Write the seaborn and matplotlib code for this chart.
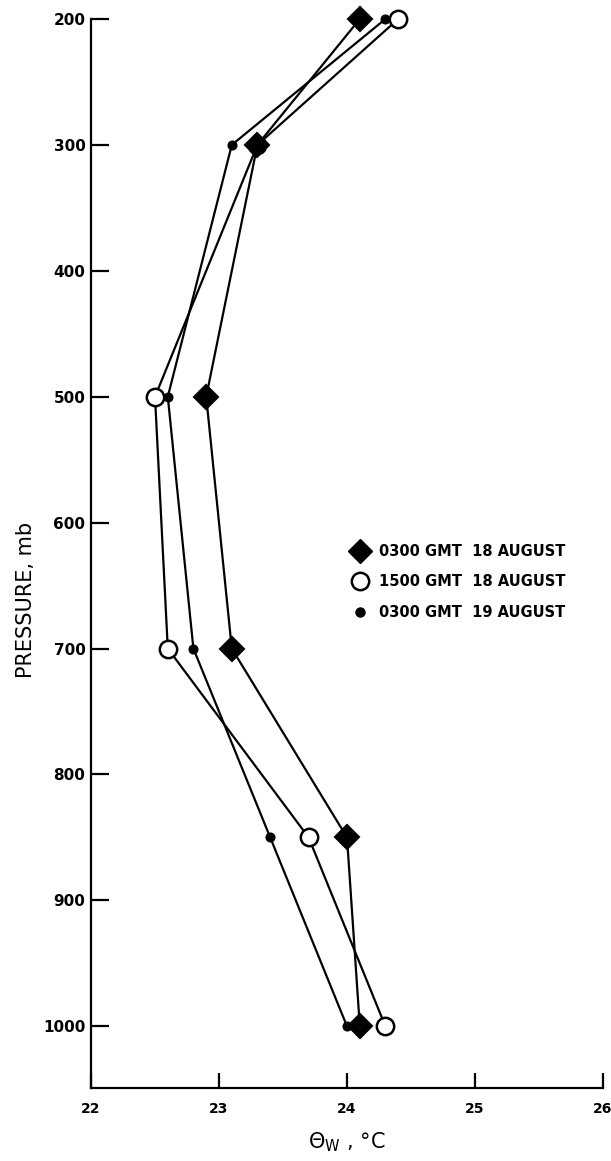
import matplotlib
matplotlib.use("Agg")
import matplotlib.pyplot as plt
from matplotlib.lines import Line2D
import seaborn as sns
import pandas as pd

# ---- data ----
pressure_levels = [200, 300, 500, 700, 850, 1000]
theta_0300_18 = [24.1, 23.3, 22.9, 23.1, 24.0, 24.1]   # diamonds
theta_1500_18 = [24.4, 23.3, 22.5, 22.6, 23.7, 24.3]   # open circles
theta_0300_19 = [24.3, 23.1, 22.6, 22.8, 23.4, 24.0]   # small dots
series_labels = ["0300 GMT  18 AUGUST", "1500 GMT  18 AUGUST", "0300 GMT  19 AUGUST"]
x_ticks = [22, 23, 24, 25, 26]
y_ticks = [200, 300, 400, 500, 600, 700, 800, 900, 1000]

sns.set_theme(style="ticks")
plt.rcParams['font.family'] = ['DejaVu Sans']
plt.rcParams['text.color'] = 'black'
plt.rcParams['axes.labelcolor'] = 'black'

fig = plt.figure(figsize=(6.11, 11.61), dpi=100)
ax = fig.add_axes([91/611, 73/1161, (603-91)/611, (1088-19)/1161])

lw = 1.6
df19 = pd.DataFrame({"p": pressure_levels, "t": theta_0300_19})
df15 = pd.DataFrame({"p": pressure_levels, "t": theta_1500_18})
df03 = pd.DataFrame({"p": pressure_levels, "t": theta_0300_18})

sns.lineplot(data=df19, x="t", y="p", orient="y", estimator=None, ax=ax,
             color="black", linewidth=lw, marker="o", markersize=6.5,
             markerfacecolor="black", markeredgecolor="black", clip_on=False, zorder=3)
sns.lineplot(data=df15, x="t", y="p", orient="y", estimator=None, ax=ax,
             color="black", linewidth=lw, marker="o", markersize=12.5,
             markerfacecolor="white", markeredgecolor="black", markeredgewidth=1.8,
             clip_on=False, zorder=4)
sns.lineplot(data=df03, x="t", y="p", orient="y", estimator=None, ax=ax,
             color="black", linewidth=lw, marker="D", markersize=12.5,
             markerfacecolor="black", markeredgecolor="black", markeredgewidth=1.5,
             clip_on=False, zorder=5)

ax.set_xlim(22, 26)
ax.set_ylim(1049, 200)
ax.set_xticks(x_ticks)
ax.set_yticks(y_ticks)
ax.set_xticklabels([str(v) for v in x_ticks], fontsize=10, fontweight="bold")
ax.set_yticklabels([str(v) for v in y_ticks], fontsize=11, fontweight="bold")
ax.tick_params(axis="x", direction="in", length=11, width=1.6, pad=10, colors="black")
ax.tick_params(axis="y", direction="in", length=13, width=1.6, pad=4, colors="black")
for s in ["top", "right"]:
    ax.spines[s].set_visible(False)
for s in ["left", "bottom"]:
    ax.spines[s].set_linewidth(1.6)
    ax.spines[s].set_color("black")

ax.set_ylabel("PRESSURE, mb", fontsize=15, color="black")
ax.yaxis.set_label_coords(-0.108, (1088-600)/(1088-19))
ax.set_xlabel(r"$\Theta_{\mathrm{W}}$ , °C", fontsize=15, color="black")
ax.xaxis.set_label_coords(0.5, -(1130-1088)/(1088-19))

handles = [
    Line2D([], [], linestyle="none", marker="D", markersize=12.5, color="black"),
    Line2D([], [], linestyle="none", marker="o", markersize=12.5, markerfacecolor="white",
           markeredgecolor="black", markeredgewidth=1.8),
    Line2D([], [], linestyle="none", marker="o", markersize=6.5, color="black"),
]
leg = ax.legend(handles, series_labels, loc="center left",
                bbox_to_anchor=((351-91)/512, (1088-582)/(1088-19)),
                frameon=False, borderpad=0, borderaxespad=0, handlelength=1.3,
                handletextpad=0.6, labelspacing=1.05, labelcolor="black",
                prop={"size": 10.5, "weight": "bold"})

ax.grid(False)
fig.savefig("out.png", dpi=100)
